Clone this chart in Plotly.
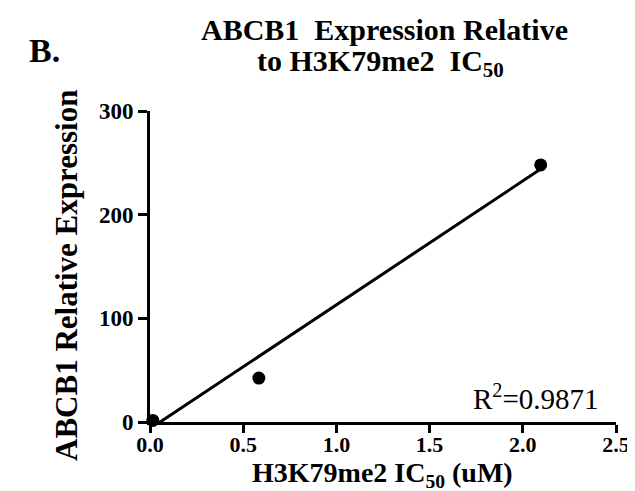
import plotly.graph_objects as go

# ---- data ----
ic50_um = [0.015, 0.584, 2.096]          # H3K79me2 IC50 (uM)
abcb1_expr = [1.5, 42.4, 248.0]          # ABCB1 relative expression
fit_slope = 119.5                        # linear fit
fit_intercept = -6.5
r2_text = "R<sup>2</sup>=0.9871"
x_ticks = [0.0, 0.5, 1.0, 1.5, 2.0, 2.5]
y_ticks = [0, 100, 200, 300]

W, H = 635, 491
L, R, T, B = 142, 27, 103, 77
pw, ph = W - L - R, H - T - B

def px(xp):
    return (xp - L) / pw

def py(yp):
    return (H - B - yp) / ph

FONT = "Liberation Serif, Times New Roman, serif"

fit_x = [min(ic50_um), max(ic50_um)]
fit_y = [fit_slope * v + fit_intercept for v in fit_x]

fig = go.Figure()
fig.add_trace(go.Scatter(x=fit_x, y=fit_y, mode="lines",
                         line=dict(color="black", width=3),
                         showlegend=False, hoverinfo="skip"))
fig.add_trace(go.Scatter(x=ic50_um, y=abcb1_expr, mode="markers",
                         marker=dict(color="black", size=13),
                         cliponaxis=False, showlegend=False))

axis_common = dict(showgrid=False, zeroline=False, showline=True,
                   linecolor="black", linewidth=3, ticks="outside",
                   tickcolor="black", tickwidth=3)
tick_font = dict(family=FONT, size=22, color="black", weight="bold")

fig.update_xaxes(range=[0, 2.5], tickvals=x_ticks, ticklabelstandoff=-7,
                 ticktext=[f"{v:.1f}" for v in x_ticks], ticklen=8,
                 tickfont=tick_font, **axis_common)
fig.update_yaxes(range=[0, 300], tickvals=y_ticks,
                 ticktext=[str(v) for v in y_ticks], ticklen=9,
                 tickfont=dict(tick_font, size=23), **axis_common)

ann = []
ann.append(dict(text="B.", x=px(36), y=py(43), xref="paper", yref="paper",
                showarrow=False, xanchor="center", yanchor="middle",
                font=dict(family=FONT, size=34, color="black", weight="bold")))
ann.append(dict(text="ABCB1\u00a0\u00a0Expression Relative", x=px(376), y=py(22),
                xref="paper", yref="paper", showarrow=False,
                xanchor="center", yanchor="middle",
                font=dict(family=FONT, size=30, color="black", weight="bold")))
ann.append(dict(text="to H3K79me2\u00a0\u00a0IC<sub>50</sub>", x=px(372), y=py(55),
                xref="paper", yref="paper", showarrow=False,
                xanchor="center", yanchor="middle",
                font=dict(family=FONT, size=30, color="black", weight="bold")))
ann.append(dict(text="ABCB1 Relative Expression", x=px(58), y=py(268),
                xref="paper", yref="paper", showarrow=False, textangle=-90,
                xanchor="center", yanchor="middle",
                font=dict(family=FONT, size=31, color="black", weight="bold")))
ann.append(dict(text="H3K79me2 IC<sub>50</sub> (uM)", x=px(374), y=py(466),
                xref="paper", yref="paper", showarrow=False,
                xanchor="center", yanchor="middle",
                font=dict(family=FONT, size=28, color="black", weight="bold")))
ann.append(dict(text=r2_text, x=px(463), y=py(389), xref="paper", yref="paper",
                showarrow=False, xanchor="left", yanchor="middle",
                font=dict(family=FONT, size=29, color="black")))

fig.update_layout(width=W, height=H, margin=dict(l=L, r=R, t=T, b=B),
                  paper_bgcolor="white", plot_bgcolor="white",
                  annotations=ann, showlegend=False)

fig.write_html("out.html")
